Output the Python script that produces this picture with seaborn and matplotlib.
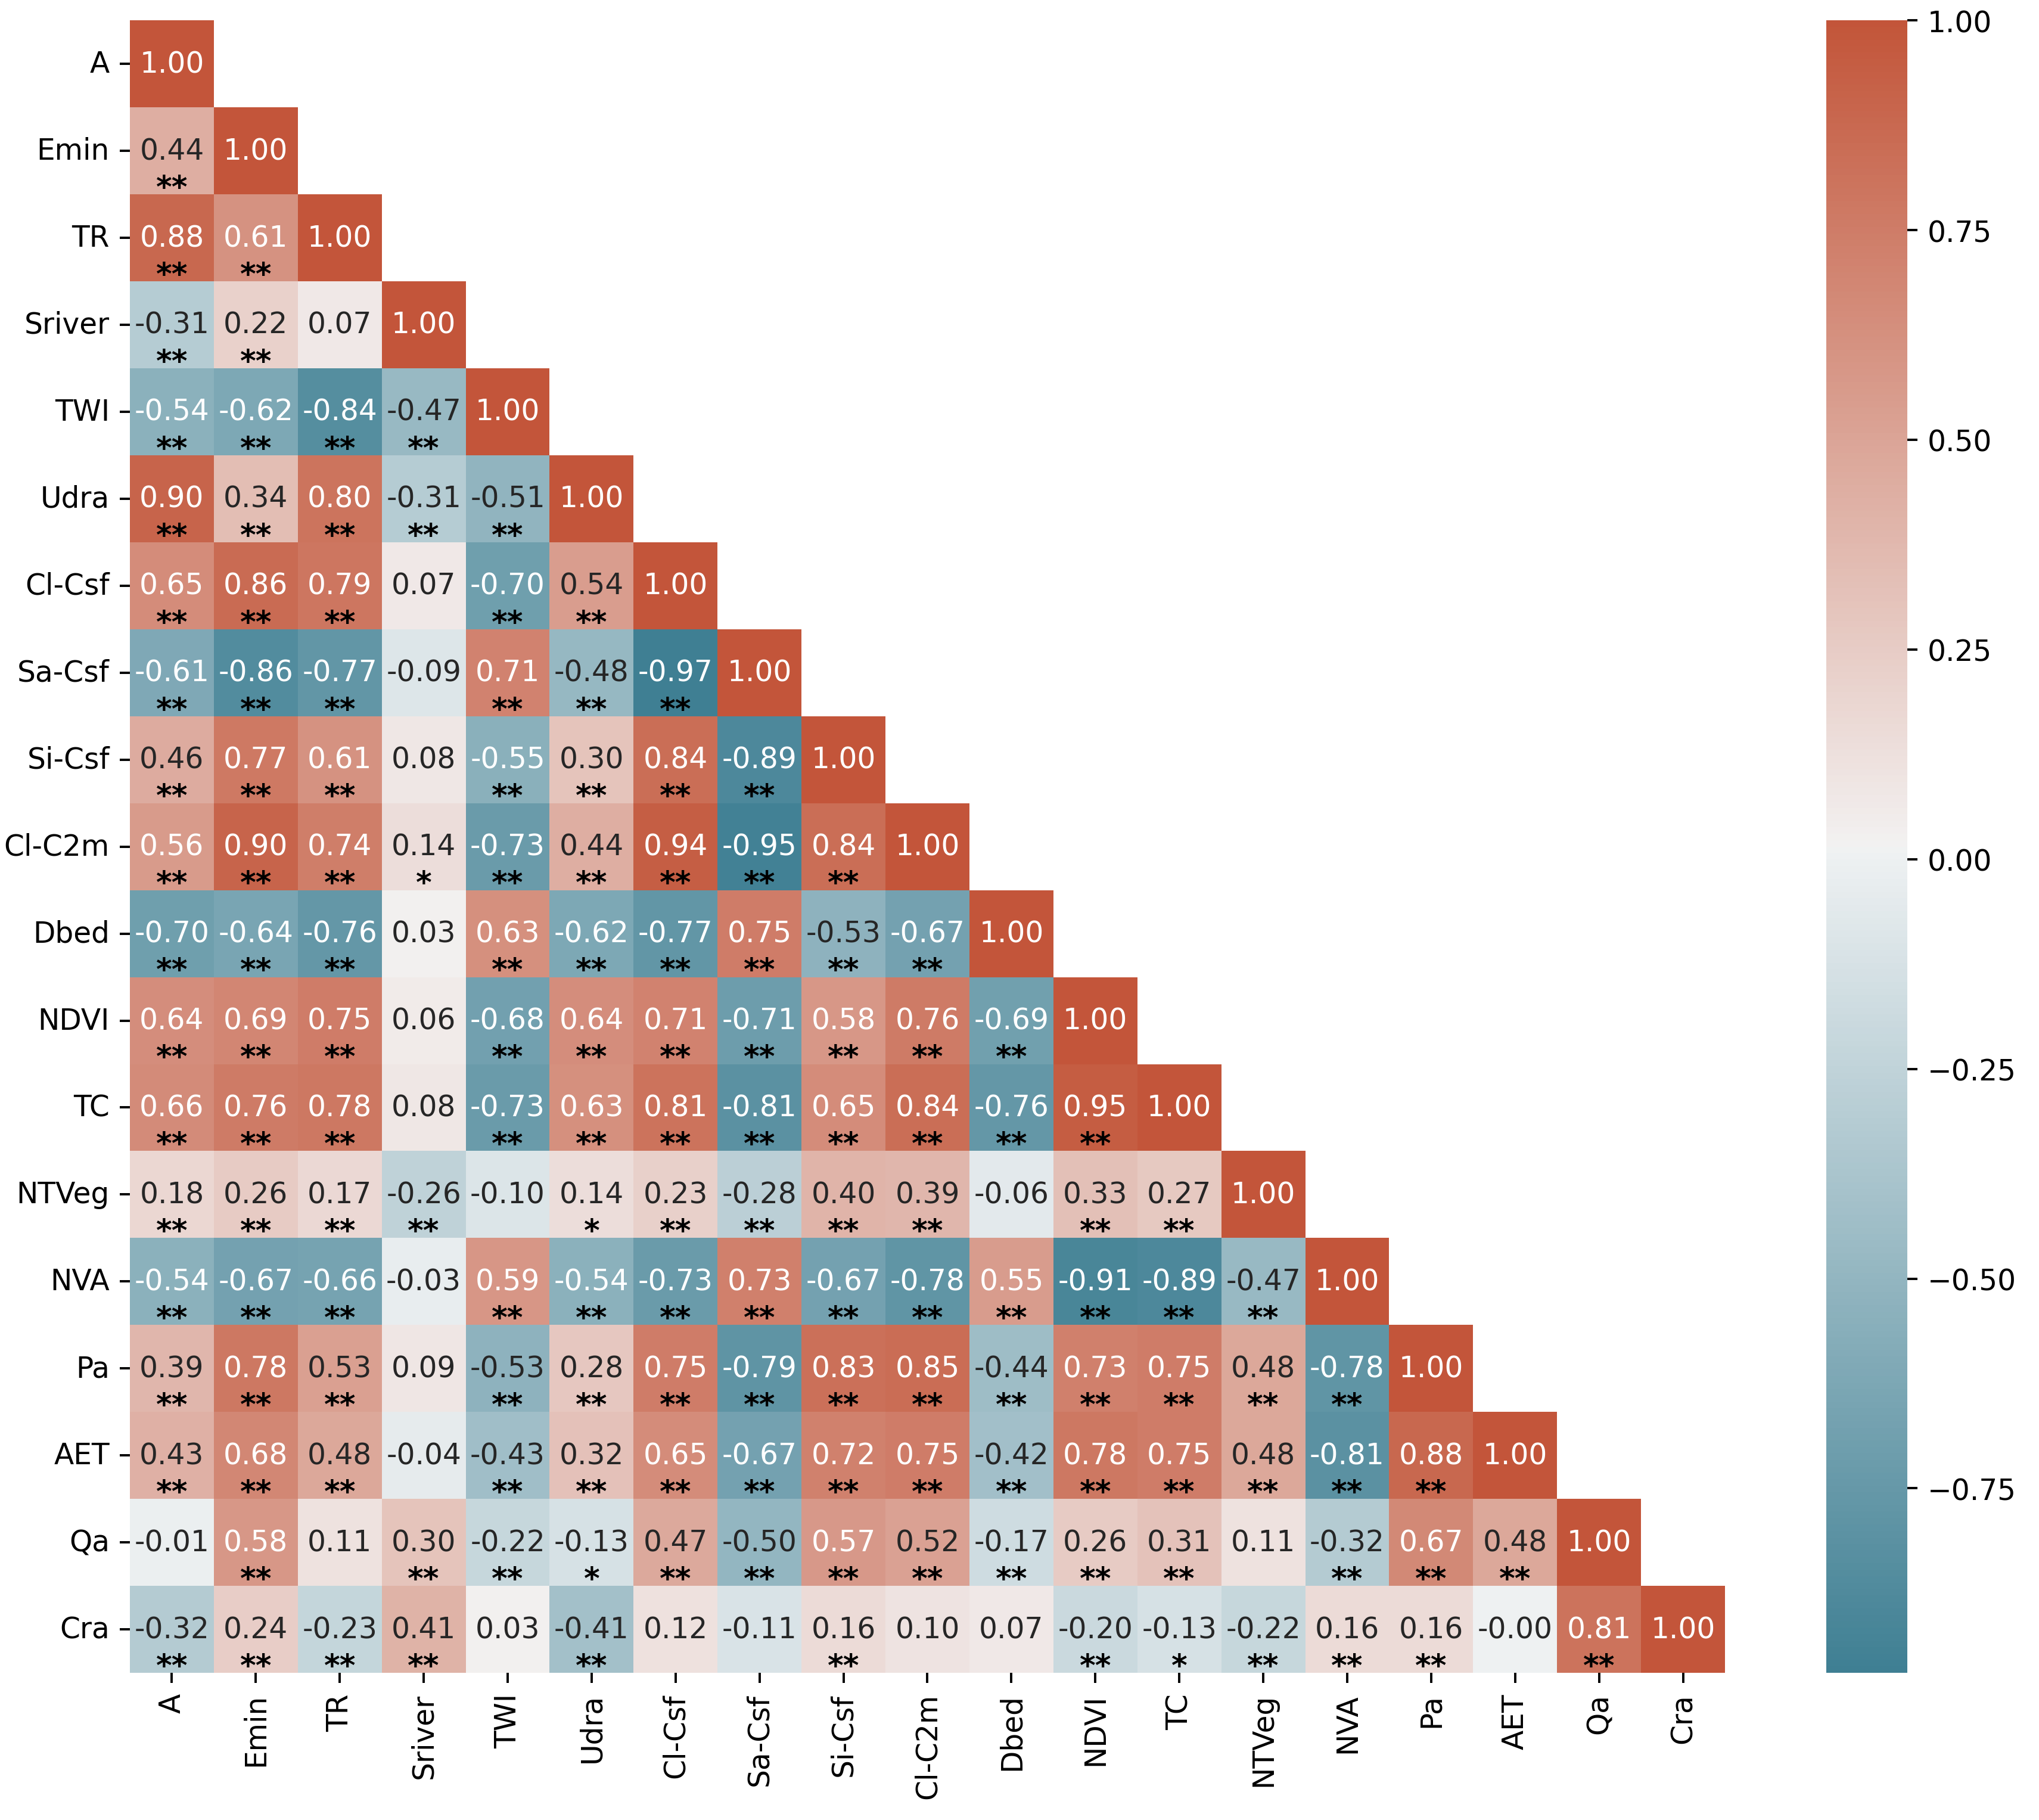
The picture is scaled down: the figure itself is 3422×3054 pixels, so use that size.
import numpy as np
import pandas as pd
import matplotlib.pyplot as plt
import seaborn as sns

labels = ['A', 'Emin', 'TR', 'Sriver', 'TWI', 'Udra', 'Cl-Csf', 'Sa-Csf', 'Si-Csf',
          'Cl-C2m', 'Dbed', 'NDVI', 'TC', 'NTVeg', 'NVA', 'Pa', 'AET', 'Qa', 'Cra']

# lower triangle of the correlation matrix (row by row, diagonal left out)
corr_rows = [
    [],
    [0.44],
    [0.88, 0.61],
    [-0.31, 0.22, 0.07],
    [-0.54, -0.62, -0.84, -0.47],
    [0.90, 0.34, 0.80, -0.31, -0.51],
    [0.65, 0.86, 0.79, 0.07, -0.70, 0.54],
    [-0.61, -0.86, -0.77, -0.09, 0.71, -0.48, -0.97],
    [0.46, 0.77, 0.61, 0.08, -0.55, 0.30, 0.84, -0.89],
    [0.56, 0.90, 0.74, 0.14, -0.73, 0.44, 0.94, -0.95, 0.84],
    [-0.70, -0.64, -0.76, 0.03, 0.63, -0.62, -0.77, 0.75, -0.53, -0.67],
    [0.64, 0.69, 0.75, 0.06, -0.68, 0.64, 0.71, -0.71, 0.58, 0.76, -0.69],
    [0.66, 0.76, 0.78, 0.08, -0.73, 0.63, 0.81, -0.81, 0.65, 0.84, -0.76, 0.95],
    [0.18, 0.26, 0.17, -0.26, -0.10, 0.14, 0.23, -0.28, 0.40, 0.39, -0.06, 0.33, 0.27],
    [-0.54, -0.67, -0.66, -0.03, 0.59, -0.54, -0.73, 0.73, -0.67, -0.78, 0.55, -0.91, -0.89, -0.47],
    [0.39, 0.78, 0.53, 0.09, -0.53, 0.28, 0.75, -0.79, 0.83, 0.85, -0.44, 0.73, 0.75, 0.48, -0.78],
    [0.43, 0.68, 0.48, -0.04, -0.43, 0.32, 0.65, -0.67, 0.72, 0.75, -0.42, 0.78, 0.75, 0.48, -0.81, 0.88],
    [-0.01, 0.58, 0.11, 0.30, -0.22, -0.13, 0.47, -0.50, 0.57, 0.52, -0.17, 0.26, 0.31, 0.11, -0.32, 0.67, 0.48],
    [-0.32, 0.24, -0.23, 0.41, 0.03, -0.41, 0.12, -0.11, 0.16, 0.10, 0.07, -0.20, -0.13, -0.22, 0.16, 0.16, -0.0, 0.81],
]

# significance: 2 -> "**", 1 -> "*", 0 -> none
sig_rows = [
    [],
    [2],
    [2, 2],
    [2, 2, 0],
    [2, 2, 2, 2],
    [2, 2, 2, 2, 2],
    [2, 2, 2, 0, 2, 2],
    [2, 2, 2, 0, 2, 2, 2],
    [2, 2, 2, 0, 2, 2, 2, 2],
    [2, 2, 2, 1, 2, 2, 2, 2, 2],
    [2, 2, 2, 0, 2, 2, 2, 2, 2, 2],
    [2, 2, 2, 0, 2, 2, 2, 2, 2, 2, 2],
    [2, 2, 2, 0, 2, 2, 2, 2, 2, 2, 2, 2],
    [2, 2, 2, 2, 0, 1, 2, 2, 2, 2, 0, 2, 2],
    [2, 2, 2, 0, 2, 2, 2, 2, 2, 2, 2, 2, 2, 2],
    [2, 2, 2, 0, 2, 2, 2, 2, 2, 2, 2, 2, 2, 2, 2],
    [2, 2, 2, 0, 2, 2, 2, 2, 2, 2, 2, 2, 2, 2, 2, 2],
    [0, 2, 0, 2, 2, 1, 2, 2, 2, 2, 2, 2, 2, 0, 2, 2, 2],
    [2, 2, 2, 2, 0, 2, 0, 0, 2, 0, 0, 2, 1, 2, 2, 2, 0, 2],
]

n = len(labels)
mat = np.eye(n)
for i, row in enumerate(corr_rows):
    for j, v in enumerate(row):
        mat[i, j] = v
        mat[j, i] = v
corr = pd.DataFrame(mat, index=labels, columns=labels)
mask = np.triu(np.ones((n, n), dtype=bool), k=1)

cmap = sns.diverging_palette(220, 20, as_cmap=True)

fig = plt.figure(figsize=(3422 / 350, 3055 / 350), dpi=350)
ax = fig.add_axes([0.0637, 0.0808, 0.7823, 0.9077])
cax = fig.add_axes([0.8957, 0.0808, 0.0397, 0.9077])

sns.heatmap(corr, mask=mask, cmap=cmap, annot=True, fmt='.2f', square=False,
            ax=ax, cbar_ax=cax, annot_kws={'fontsize': 10})

for i, row in enumerate(sig_rows):
    for j, s in enumerate(row):
        if s:
            ax.text(j + 0.5, i + 0.93, '*' * s, ha='center', va='center',
                    fontsize=10.5, fontweight='bold', color='black')

ax.set_xticklabels(labels, rotation=90)
ax.set_yticklabels(labels, rotation=0)
ax.tick_params(labelsize=10)
cax.tick_params(labelsize=10)

fig.savefig('out.png', dpi=350)
